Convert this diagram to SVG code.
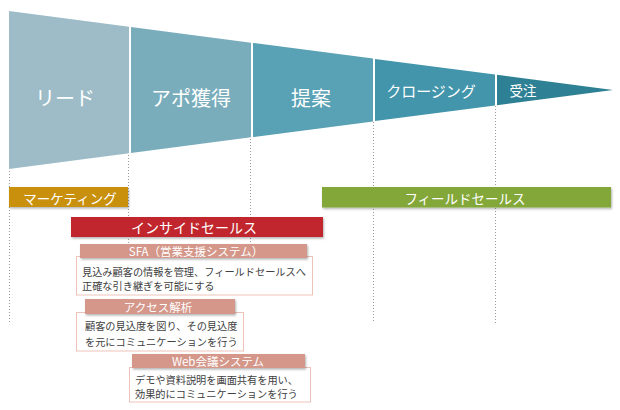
<svg xmlns="http://www.w3.org/2000/svg" width="620" height="410" viewBox="0 0 620 410">
<defs>
<filter id="sh" x="-5%" y="-20%" width="110%" height="150%">
<feDropShadow dx="1" dy="1.5" stdDeviation="0.8" flood-color="#000" flood-opacity="0.3"/>
</filter>
</defs>
<style>
text{font-family:"Noto Sans CJK JP","Noto Sans",sans-serif;dominant-baseline:central}
.w{fill:#fff}
.c{text-anchor:middle}
.d{fill:#404040;font-size:10.2px}
.hd{fill:#D4978A;filter:url(#sh)}
.box{fill:#fff;stroke:#EDC3B9;stroke-width:1}
.dot{stroke:#9a9a9a;stroke-width:1;stroke-dasharray:1 2;fill:none}
</style>
<rect width="620" height="410" fill="#fff"/>
<g id="connectors">
<line class="dot" x1="9.5" y1="171" x2="9.5" y2="323"/>
<line class="dot" x1="128.5" y1="155" x2="128.5" y2="244"/>
<line class="dot" x1="250.5" y1="139" x2="250.5" y2="256"/>
<line class="dot" x1="373.5" y1="122" x2="373.5" y2="323"/>
<line class="dot" x1="495.5" y1="106" x2="495.5" y2="323"/>
</g>
<g id="funnel-lead">
<polygon points="9,11 129,26.7 129,153.3 9,169" fill="#9DBCC7"/>
<text class="w c" x="65" y="97" font-size="20">リード</text>
</g>
<g id="funnel-appo">
<polygon points="131,27 251,42.7 251,137.3 131,153" fill="#7AADBC"/>
<text class="w c" x="191" y="97" font-size="20">アポ獲得</text>
</g>
<g id="funnel-proposal">
<polygon points="253,42.9 373,58.6 373,121.4 253,137.1" fill="#59A1B4"/>
<text class="w c" x="311" y="97" font-size="20">提案</text>
</g>
<g id="funnel-closing">
<polygon points="375,58.9 495,74.6 495,105.4 375,121.1" fill="#4295AB"/>
<text class="w c" x="431" y="90" font-size="15">クロージング</text>
</g>
<g id="funnel-order">
<polygon points="497,74.8 613,90 497,105.2" fill="#2E8094"/>
<text class="w c" x="523" y="90" font-size="13.5">受注</text>
</g>
<g id="bar-marketing">
<rect x="9" y="187" width="119" height="20" fill="#C8900A" filter="url(#sh)"/>
<text class="w c" x="70" y="197.5" font-size="13.5">マーケティング</text>
</g>
<g id="bar-field">
<rect x="322" y="187" width="289" height="20.5" fill="#83A737" filter="url(#sh)"/>
<text class="w c" x="465" y="197.5" font-size="13.5">フィールドセールス</text>
</g>
<g id="bar-inside">
<rect x="71" y="217" width="252" height="20" fill="#C1282E" filter="url(#sh)"/>
<text class="w c" x="194" y="227" font-size="14">インサイドセールス</text>
</g>
<g id="sfa">
<rect class="box" x="76.5" y="256.5" width="236" height="38.5"/>
<rect class="hd" x="80" y="244" width="227" height="14"/>
<text class="w c" x="196" y="251" font-size="11.5">SFA（営業支援システム）</text>
<text class="d" x="82" y="271.5">見込み顧客の情報を管理、フィールドセールスへ</text>
<text class="d" x="82" y="285.5">正確な引き継ぎを可能にする</text>
</g>
<g id="access">
<rect class="box" x="76.5" y="312.5" width="167" height="38.5"/>
<rect class="hd" x="85" y="299" width="150" height="15"/>
<text class="w c" x="158" y="306.5" font-size="11.5">アクセス解析</text>
<text class="d" x="85" y="325.5">顧客の見込度を図り、その見込度</text>
<text class="d" x="85" y="341">を元にコミュニケーションを行う</text>
</g>
<g id="web">
<rect class="box" x="129.5" y="367.5" width="181" height="34.5"/>
<rect class="hd" x="132" y="354" width="173" height="14"/>
<text class="w c" x="218" y="361" font-size="11.5">Web会議システム</text>
<text class="d" x="135" y="379.5" font-size="9.8">デモや資料説明を画面共有を用い、</text>
<text class="d" x="135" y="393.5" font-size="9.8">効果的にコミュニケーションを行う</text>
</g>
</svg>
